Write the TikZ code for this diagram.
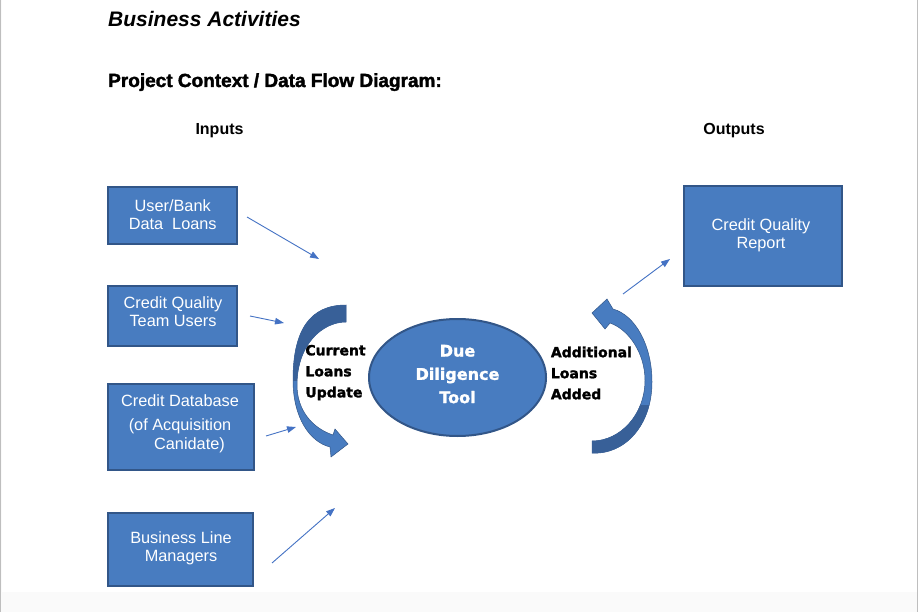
\documentclass[tikz,border=0pt]{standalone}
\usepackage{fontspec}
\setmainfont{Liberation Sans}
\newfontfamily\dvsans{DejaVu Sans}[BoldFeatures={FakeBold=1.6}]
\newfontfamily\heavysans{Liberation Sans}[BoldFeatures={FakeBold=2}]
\usetikzlibrary{arrows.meta,shapes.geometric}
\definecolor{boxfill}{RGB}{72,124,192}
\definecolor{boxline}{RGB}{50,86,136}
\definecolor{arrdark}{RGB}{56,96,152}
\definecolor{thinarr}{RGB}{68,114,196}
\definecolor{pagegray}{RGB}{250,250,250}
\definecolor{edgegray}{RGB}{190,190,190}
\tikzset{
  box/.style={rectangle, draw=boxline, line width=2pt, fill=boxfill, inner sep=0pt},
  boxtext/.style={text=white, align=center, inner sep=0pt, font=\fontsize{16.3}{18.5}\selectfont},
  ovaltext/.style={text=white, align=center, inner sep=0pt, font=\dvsans\bfseries\fontsize{16}{23.3}\selectfont},
  sidetext/.style={text=black, align=left, inner sep=0pt, font=\dvsans\bfseries\fontsize{14}{21}\selectfont},
  thin/.style={draw=thinarr, line width=0.9pt, -{Triangle[length=9pt,width=6.5pt]}},
  bigarrow/.style={fill=boxfill, draw=boxline, line width=0.5pt},
}
\begin{document}
\begin{tikzpicture}[x=1pt,y=-1pt]
\useasboundingbox (0,0) rectangle (918,612);
% page
\fill[pagegray] (0,0) rectangle (918,612);
\fill[white] (1.5,0) rectangle (916.5,592);
\draw[edgegray, line width=1pt] (0.8,0) -- (0.8,612);
\draw[edgegray, line width=1pt] (917.2,0) -- (917.2,612);

% titles
\node[anchor=base west, inner sep=0pt, font=\bfseries\itshape\fontsize{21}{24}\selectfont] (title) at (108,27) {Business Activities};
\node[anchor=base west, inner sep=0pt, font=\heavysans\bfseries\fontsize{19}{22}\selectfont] (sub) at (108,87) {Project Context / Data Flow Diagram:};
\node[anchor=base, inner sep=0pt, font=\bfseries\fontsize{16}{19}\selectfont] (inputs) at (219.5,135) {Inputs};
\node[anchor=base, inner sep=0pt, font=\bfseries\fontsize{16}{19}\selectfont] (outputs) at (734,135) {Outputs};

% boxes
\node[box, minimum width=129pt, minimum height=57pt] (b1) at (172.5,216) {};
\node[box, minimum width=129pt, minimum height=59pt] (b2) at (172,316) {};
\node[box, minimum width=146pt, minimum height=86pt] (b3) at (180.5,426.5) {};
\node[box, minimum width=145pt, minimum height=73pt] (b4) at (180,549) {};
\node[box, minimum width=158pt, minimum height=100pt] (b5) at (762.5,236.5) {};

\node[boxtext] (t1) at (172.7,214.8) {User/Bank\\Data\ \ Loans};
\node[boxtext] (t2) at (173,311.9) {Credit Quality\\Team Users};
\node[boxtext] (t3) at (180,424) {Credit Database\\[5.5pt](of Acquisition\\\hspace*{19pt}Canidate)};
\node[boxtext] (t4) at (181,548.2) {Business Line\\Managers};
\node[boxtext] (t5) at (761,235.2) {Credit Quality\\Report};

% central ellipse
\node[ellipse, draw=boxline, line width=2pt, fill=boxfill, minimum width=177pt, minimum height=117pt, inner sep=0pt] (dd) at (457.5,377.5) {};
\node[ovaltext] (ddtext) at (457.5,374.1) {Due\\Diligence\\Tool};

% side labels
\node[sidetext, anchor=west] (cur) at (305.2,372.6) {Current\\Loans\\Update};
\node[sidetext, anchor=west] (add) at (550.7,373) {Additional\\Loans\\Added};

% left curved arrow
\def\leftarrowpath{(346,305) .. controls (310,305) and (293,330) .. (293,380) .. controls (293,418) and (310,442) .. (330,447) -- (331,457) -- (348,444) -- (335,429) -- (333,435) .. controls (312,428) and (297,410) .. (297,385) .. controls (297,345) and (322,322) .. (346,322) -- cycle}
\path[bigarrow] \leftarrowpath;
\begin{scope}
  \clip (280,295) rectangle (360,380);
  \fill[arrdark] \leftarrowpath;
\end{scope}

% right curved arrow
\def\rightarrowpath{(592,453) .. controls (625,455) and (652,425) .. (652,382) .. controls (652,345) and (635,315) .. (613,309) -- (607,299) -- (592,313) -- (605,329) -- (610,323) .. controls (630,330) and (645,355) .. (645,380) .. controls (645,415) and (620,441) .. (592,441) -- cycle}
\path[bigarrow] \rightarrowpath;
\begin{scope}
  \clip (580,405) rectangle (660,460);
  \fill[arrdark] \rightarrowpath;
\end{scope}

% thin connectors
\coordinate (s1) at (247,217); \coordinate (e1) at (319,259);
\coordinate (s2) at (250,316); \coordinate (e2) at (284,323);
\coordinate (s3) at (266,436); \coordinate (e3) at (296,427);
\coordinate (s4) at (272,563); \coordinate (e4) at (335,508);
\coordinate (s5) at (623,294); \coordinate (e5) at (670,259);
\draw[thin] (s1) -- (e1);
\draw[thin] (s2) -- (e2);
\draw[thin] (s3) -- (e3);
\draw[thin] (s4) -- (e4);
\draw[thin] (s5) -- (e5);
\end{tikzpicture}
\end{document}
